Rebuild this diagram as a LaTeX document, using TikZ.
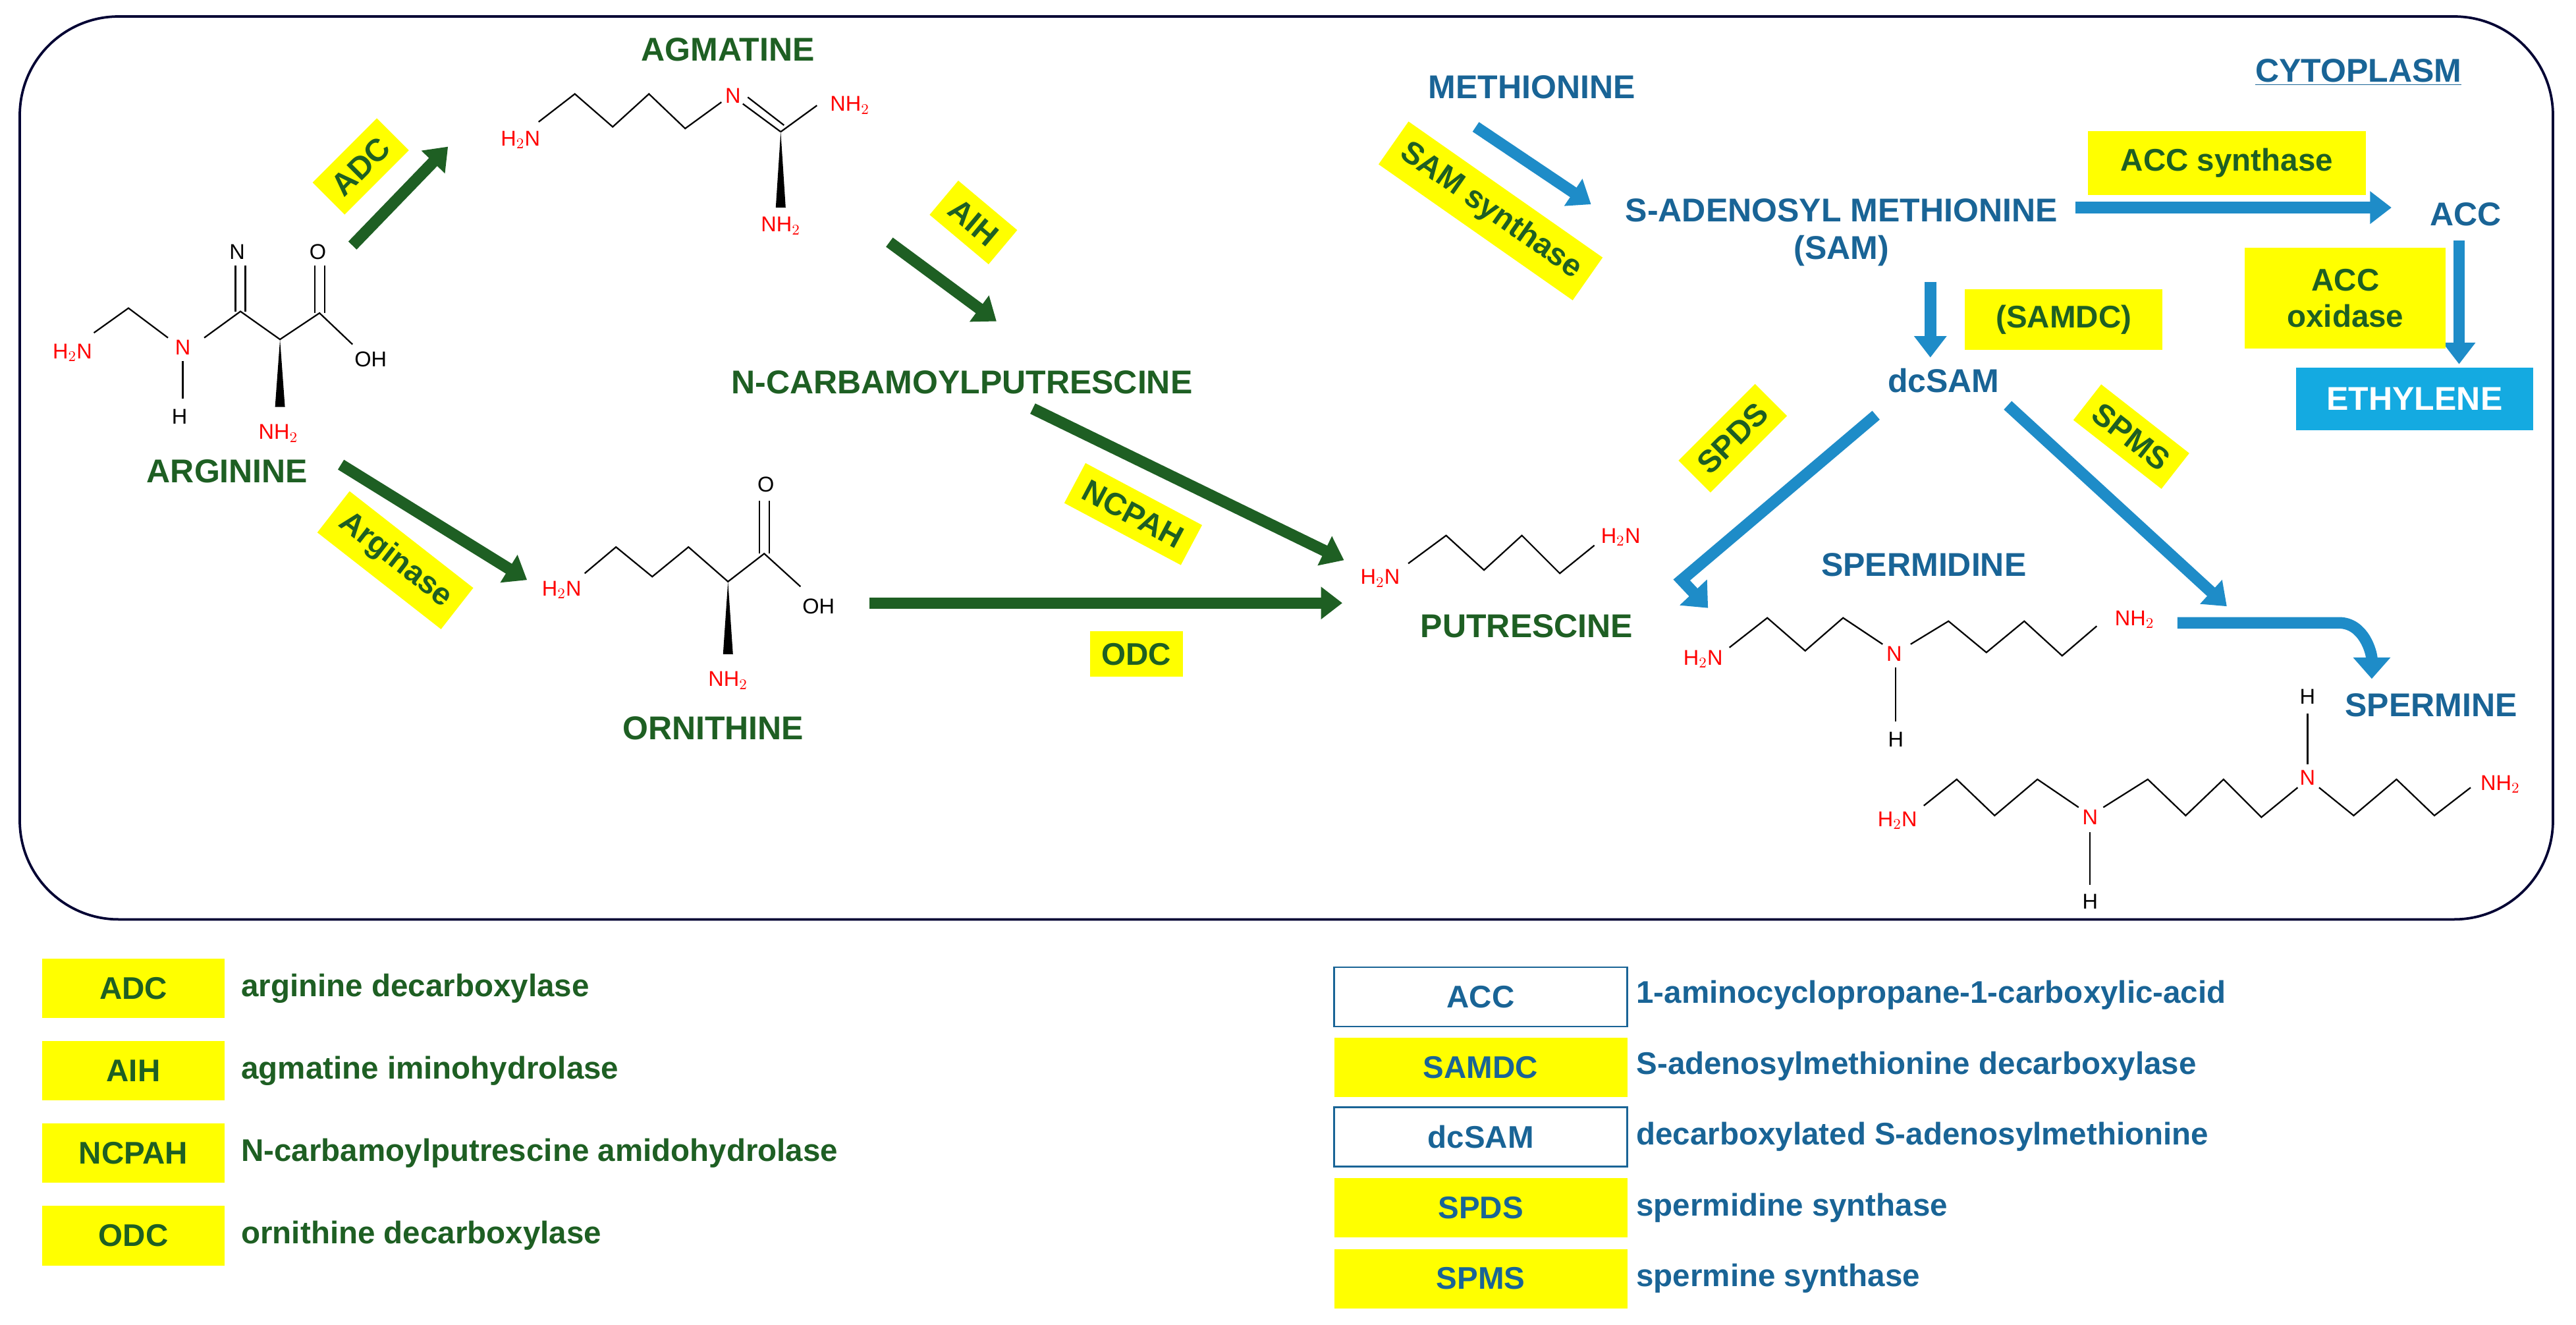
\documentclass[tikz,border=0pt]{standalone}
\usepackage{fontspec}
\setmainfont{Liberation Sans}
\usetikzlibrary{arrows.meta,positioning}
\definecolor{dgreen}{RGB}{30,95,35}
\definecolor{dblue}{RGB}{25,100,150}
\definecolor{ablue}{RGB}{30,140,200}
\definecolor{eyellow}{RGB}{255,255,0}
\definecolor{ecyan}{RGB}{20,170,225}
\tikzset{
  enz/.style={fill=eyellow,font=\fontsize{19}{22}\selectfont\bfseries,text=dgreen,inner sep=7pt,align=center},
  gname/.style={font=\fontsize{20}{23}\selectfont\bfseries,text=dgreen},
  bname/.style={font=\fontsize{20}{23}\selectfont\bfseries,text=dblue},
  atom/.style={font=\fontsize{13}{14}\selectfont,text=red,inner sep=1pt},
  hatom/.style={font=\fontsize{13}{14}\selectfont,inner sep=1pt},
  bond/.style={line width=0.9pt},
  garrow/.style={draw=dgreen,line width=7pt,-{Triangle[length=13pt,width=19pt]}},
  barrow/.style={draw=ablue,line width=7pt,-{Triangle[length=13pt,width=19pt]}},
  lbox/.style={minimum width=111pt,minimum height=36pt,font=\fontsize{19}{22}\selectfont\bfseries,inner sep=0pt},
  gtext/.style={anchor=west,font=\fontsize{19}{22}\selectfont\bfseries,text=dgreen},
  btext/.style={anchor=west,font=\fontsize{19}{22}\selectfont\bfseries,text=dblue}
}
\begin{document}
\begin{tikzpicture}[x=1pt,y=-1pt]
\useasboundingbox[fill=white] (0,0) rectangle (1564,804);
\draw[line width=1.5pt,draw=black!80!blue,rounded corners=60pt] (12,10) rectangle (1550,558);
\node[bname] (cyto) at (1432,44) {\underline{CYTOPLASM}};
% arginine
\node[gname] (arg) at (138,286) {ARGININE};
\node[atom] (argh2n) at (44,214) {H$_2$N};
\node[atom] (argn) at (111,211) {N};
\node[hatom] (argh) at (109,253) {H};
\node[hatom] (argnim) at (144,153) {N};
\node[atom] (argnh2) at (169,263) {NH$_2$};
\node[hatom] (argo) at (193,153) {O};
\node[hatom] (argoh) at (225,218) {OH};
\draw[bond] (57,202) -- (78,187) -- (102,205);
\draw[bond] (111,219) -- (111,242);
\draw[bond] (124,205) -- (146,189) -- (170,206) -- (194,190) -- (214,209);
\draw[bond] (143,189) -- (143,161) (149,189) -- (149,161);
\draw[bond] (191,190) -- (191,161) (197,190) -- (197,161);
\fill (170,206) -- (167,247) -- (173,247) -- cycle;
% agmatine
\node[gname] (agm) at (442,30) {AGMATINE};
\node[atom] (agmh2n) at (316,85) {H$_2$N};
\node[atom] (agmn) at (445,58) {N};
\node[atom] (agmnh2a) at (516,64) {NH$_2$};
\node[atom] (agmnh2b) at (474,137) {NH$_2$};
\draw[bond] (327,74) -- (349,57) -- (372,77) -- (394,57) -- (416,78) -- (438,62);
\draw[bond] (451,63) -- (474,80) (454,59) -- (476,76);
\draw[bond] (474,80) -- (496,64);
\fill (474,80) -- (471,126) -- (477,126) -- cycle;
% ornithine
\node[gname] (orn) at (433,442) {ORNITHINE};
\node[atom] (ornh2n) at (341,358) {H$_2$N};
\node[atom] (ornnh2) at (442,413) {NH$_2$};
\node[hatom] (orno) at (465,294) {O};
\node[hatom] (ornoh) at (497,368) {OH};
\draw[bond] (355,348) -- (374,332) -- (396,350) -- (418,332) -- (442,353) -- (464,336) -- (486,356);
\draw[bond] (461,336) -- (461,304) (467,336) -- (467,304);
\fill (442,353) -- (439,397) -- (445,397) -- cycle;
\node[gname] (ncp) at (584,232) {N-CARBAMOYLPUTRESCINE};
% putrescine
\node[gname] (put) at (927,380) {PUTRESCINE};
\node[atom] (puta) at (838,351) {H$_2$N};
\node[atom] (putb) at (984,326) {H$_2$N};
\draw[bond] (855,342) -- (878,325) -- (901,346) -- (924,325) -- (947,348) -- (968,331);
% green arrows
\draw[garrow] (214,149) -- (272,89);
\draw[garrow] (540,147) -- (605,195);
\draw[garrow] (207,282) -- (320,352);
\draw[garrow] (627,248) -- (816,340);
\draw[garrow] (528,366) -- (815,366);
\node[enz,rotate=45] (adc) at (219,101) {ADC};
\node[enz,rotate=-40] (aih) at (591,135) {AIH};
\node[enz,rotate=-38] (argn2) at (240,340) {Arginase};
\node[enz,rotate=-28] (ncpah) at (688,312) {NCPAH};
\node[enz] (odc) at (690,397) {ODC};
% methionine branch
\node[bname] (met) at (930,53) {METHIONINE};
\node[bname,align=center] (sam) at (1118,141) {S-ADENOSYL METHIONINE\\(SAM)};
\node[bname] (acc) at (1497,130) {ACC};
\node[fill=ecyan,text=white,font=\fontsize{20}{23}\selectfont\bfseries,minimum width=144pt,minimum height=38pt] (eth) at (1466,242) {ETHYLENE};
\node[bname] (dcsam) at (1180,231) {dcSAM};
\node[bname] (spd) at (1168,343) {SPERMIDINE};
\node[bname] (spm) at (1476,428) {SPERMINE};
\draw[barrow] (896,77) -- (966,124);
\draw[barrow] (1260,126) -- (1452,126);
\draw[barrow] (1493,146) -- (1493,221);
\draw[barrow] (1172,171) -- (1172,217);
\draw[barrow,-{Triangle[length=13pt,width=22pt]}] (1139,252) -- (1021,352) -- (1037,369);
\draw[barrow] (1219,246) -- (1352,368);
\draw[barrow,-{Triangle[length=13pt,width=22pt]}] (1322,378) -- (1420,378) to[out=0,in=90] (1440,412);
\node[enz,rotate=-35] (samsyn) at (905,128) {SAM synthase};
\node[enz,minimum width=169pt,minimum height=39pt] (accsyn) at (1352,99) {ACC synthase};
\node[enz,minimum width=122pt,minimum height=61pt,inner sep=2pt] (accox) at (1424,181) {ACC\\oxidase};
\node[enz,minimum width=120pt,minimum height=37pt] (samdc) at (1253,194) {(SAMDC)};
\node[enz,rotate=45] (spds) at (1052,266) {SPDS};
\node[enz,rotate=-38] (spms) at (1294,265) {SPMS};
% spermidine
\node[atom] (spda) at (1034,400) {H$_2$N};
\node[atom] (spdn) at (1150,397) {N};
\node[hatom] (spdh) at (1151,449) {H};
\node[atom] (spdb) at (1296,376) {NH$_2$};
\draw[bond] (1050,393) -- (1073,375) -- (1096,395) -- (1119,375) -- (1143,391);
\draw[bond] (1151,405) -- (1151,438);
\draw[bond] (1160,391) -- (1183,377) -- (1206,396) -- (1229,377) -- (1252,398) -- (1273,380);
% spermine
\node[atom] (spma) at (1152,498) {H$_2$N};
\node[atom] (spmn1) at (1269,496) {N};
\node[hatom] (spmh1) at (1269,547) {H};
\node[atom] (spmn2) at (1401,472) {N};
\node[hatom] (spmh2) at (1401,423) {H};
\node[atom] (spmb) at (1518,476) {NH$_2$};
\draw[bond] (1168,489) -- (1188,473) -- (1211,495) -- (1237,473) -- (1262,490);
\draw[bond] (1269,505) -- (1269,537);
\draw[bond] (1277,490) -- (1304,473) -- (1327,495) -- (1350,473) -- (1373,496) -- (1395,478);
\draw[bond] (1401,464) -- (1401,433);
\draw[bond] (1408,478) -- (1429,495) -- (1455,473) -- (1478,495) -- (1500,478);
% legend
\foreach \t/\d [count=\i from 0] in {ADC/arginine decarboxylase,AIH/agmatine iminohydrolase,NCPAH/N-carbamoylputrescine amidohydrolase,ODC/ornithine decarboxylase}{
  \node[lbox,fill=eyellow,text=dgreen] (lg\i) at (81,600+50*\i) {\t};
  \node[gtext] (lgt\i) at (143,600+50*\i) {\d};
}
\node[lbox,draw=dblue,line width=1pt,text=dblue,minimum width=178pt] (lr0) at (899,605) {ACC};
\node[btext] (lrt0) at (990,604) {1-aminocyclopropane-1-carboxylic-acid};
\node[lbox,fill=eyellow,text=dblue,minimum width=178pt] (lr1) at (899,648) {SAMDC};
\node[btext] (lrt1) at (990,647) {S-adenosylmethionine decarboxylase};
\node[lbox,draw=dblue,line width=1pt,text=dblue,minimum width=178pt] (lr2) at (899,690) {dcSAM};
\node[btext] (lrt2) at (990,690) {decarboxylated S-adenosylmethionine};
\node[lbox,fill=eyellow,text=dblue,minimum width=178pt] (lr3) at (899,733) {SPDS};
\node[btext] (lrt3) at (990,733) {spermidine synthase};
\node[lbox,fill=eyellow,text=dblue,minimum width=178pt] (lr4) at (899,776) {SPMS};
\node[btext] (lrt4) at (990,776) {spermine synthase};
\end{tikzpicture}
\end{document}
